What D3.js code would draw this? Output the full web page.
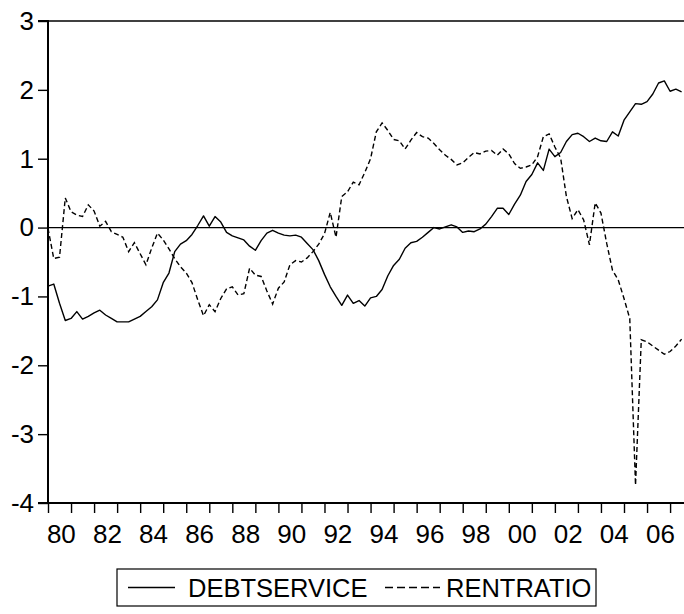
<!DOCTYPE html>
<html>
<head>
<meta charset="utf-8">
<script src="https://cdn.jsdelivr.net/npm/d3@7"></script>
<style>
html,body{margin:0;padding:0;background:#fff;}
svg{display:block;}
text{font-family:"Liberation Sans",Arial,sans-serif;fill:#000;}
</style>
</head>
<body>
<svg id="chart" width="684" height="614"></svg>
<script>
// quarterly data 1980Q1 .. 2007Q3
const startYear = 1980;
const debtservice = [
-0.85,-0.82,-1.10,-1.35,-1.32,-1.22,-1.33,-1.29,-1.24,-1.20,
-1.27,-1.32,-1.37,-1.37,-1.37,-1.33,-1.29,-1.22,-1.15,-1.05,
-0.80,-0.66,-0.35,-0.24,-0.19,-0.10,0.03,0.17,0.02,0.16,
0.08,-0.07,-0.12,-0.15,-0.18,-0.27,-0.33,-0.19,-0.08,-0.04,
-0.08,-0.11,-0.12,-0.11,-0.14,-0.23,-0.32,-0.48,-0.68,-0.86,
-1.00,-1.13,-0.98,-1.10,-1.06,-1.14,-1.02,-1.00,-0.90,-0.70,
-0.55,-0.46,-0.30,-0.22,-0.20,-0.14,-0.07,0.00,-0.02,0.01,
0.04,0.01,-0.07,-0.05,-0.06,-0.02,0.05,0.16,0.28,0.28,
0.19,0.34,0.47,0.67,0.77,0.94,0.83,1.14,1.03,1.09,
1.25,1.35,1.37,1.32,1.25,1.30,1.26,1.25,1.39,1.33,
1.56,1.68,1.80,1.79,1.83,1.94,2.10,2.13,1.98,2.01,
1.97];
const rentratio = [
-0.01,-0.45,-0.43,0.43,0.23,0.18,0.16,0.33,0.24,0.02,
0.09,-0.06,-0.10,-0.14,-0.35,-0.22,-0.38,-0.54,-0.30,-0.08,
-0.18,-0.31,-0.45,-0.57,-0.66,-0.80,-1.05,-1.28,-1.12,-1.22,
-1.03,-0.89,-0.86,-0.98,-0.96,-0.59,-0.69,-0.71,-0.92,-1.11,
-0.88,-0.79,-0.54,-0.48,-0.50,-0.44,-0.35,-0.24,-0.09,0.22,
-0.14,0.45,0.52,0.66,0.62,0.80,1.00,1.39,1.52,1.41,
1.28,1.26,1.14,1.27,1.38,1.32,1.30,1.22,1.13,1.05,
0.99,0.91,0.94,1.02,1.09,1.07,1.11,1.12,1.05,1.14,
1.07,0.93,0.86,0.88,0.91,1.03,1.32,1.36,1.17,1.01,
0.45,0.13,0.26,0.11,-0.25,0.36,0.21,-0.23,-0.62,-0.76,
-1.03,-1.32,-3.74,-1.63,-1.66,-1.72,-1.78,-1.84,-1.80,-1.72,
-1.62];
const yTicks = [-4,-3,-2,-1,0,1,2,3];
const yearTicks = d3.range(1980, 2008);
const yearLabels = d3.range(1980, 2008, 2);
const seriesNames = ["DEBTSERVICE", "RENTRATIO"];

const svg = d3.select("#chart");
const pLeft = 48, pRight = 681.6, pTop = 21, pBottom = 503;

const x = d3.scaleLinear().domain([1980, 2007.5]).range([pLeft, pRight]);
const y = d3.scaleLinear().domain([-4, 3]).range([pBottom, pTop]);

const t = i => startYear + i / 4;

// zero line
svg.append("line").attr("x1", pLeft).attr("x2", 684)
  .attr("y1", y(0)).attr("y2", y(0))
  .attr("stroke", "#000").attr("stroke-width", 1.2);

// top border
svg.append("line").attr("x1", pLeft).attr("x2", 684)
  .attr("y1", pTop).attr("y2", pTop)
  .attr("stroke", "#000").attr("stroke-width", 1.6);

// y axis
const yAxis = d3.axisLeft(y).tickValues(yTicks).tickSize(10).tickPadding(4)
  .tickFormat(d => String(d));
const gy = svg.append("g").attr("transform", `translate(${pLeft},0)`).call(yAxis);
gy.attr("font-family", null).attr("font-size", null);
gy.select(".domain").attr("stroke-width", 2).attr("d", `M-10,${pTop}H0V${pBottom}H-10`);
gy.selectAll(".tick line").attr("stroke-width", 1.4);
gy.selectAll(".tick text").style("font-size", "26px");

// x axis
const xAxis = d3.axisBottom(x).tickValues(yearTicks).tickSize(10).tickFormat("");
const gx = svg.append("g").attr("transform", `translate(0,${pBottom})`).call(xAxis);
gx.attr("font-family", null).attr("font-size", null);
gx.select(".domain").attr("stroke-width", 2).attr("d", `M${pLeft},0H684`);
gx.selectAll(".tick line").attr("stroke-width", 1.4);
gx.selectAll(".ylab").data(yearLabels).enter().append("text")
  .attr("x", d => x(d + 0.58)).attr("y", 40)
  .attr("text-anchor", "middle").style("font-size", "26px")
  .text(d => String(d % 100).padStart(2, "0"));

const line = d3.line().x((d, i) => x(t(i))).y(d => y(d));

svg.append("path").datum(debtservice).attr("d", line)
  .attr("fill", "none").attr("stroke", "#000").attr("stroke-width", 1.4)
  .attr("stroke-linejoin", "round");
svg.append("path").datum(rentratio).attr("d", line)
  .attr("fill", "none").attr("stroke", "#000").attr("stroke-width", 1.4)
  .attr("stroke-dasharray", "5,3");

// legend
const lg = svg.append("g");
lg.append("rect").attr("x", 117).attr("y", 569).attr("width", 479).attr("height", 37)
  .attr("fill", "#fff").attr("stroke", "#000").attr("stroke-width", 1.2);
lg.append("line").attr("x1", 128).attr("x2", 175).attr("y1", 587.5).attr("y2", 587.5)
  .attr("stroke", "#000").attr("stroke-width", 1.4);
lg.append("text").attr("x", 188).attr("y", 588).attr("dy", "0.35em")
  .style("font-size", "25.5px").text(seriesNames[0]);
lg.append("line").attr("x1", 385).attr("x2", 440).attr("y1", 587.5).attr("y2", 587.5)
  .attr("stroke", "#000").attr("stroke-width", 1.4).attr("stroke-dasharray", "8,4");
lg.append("text").attr("x", 446).attr("y", 588).attr("dy", "0.35em")
  .style("font-size", "25.5px").text(seriesNames[1]);
</script>
</body>
</html>
